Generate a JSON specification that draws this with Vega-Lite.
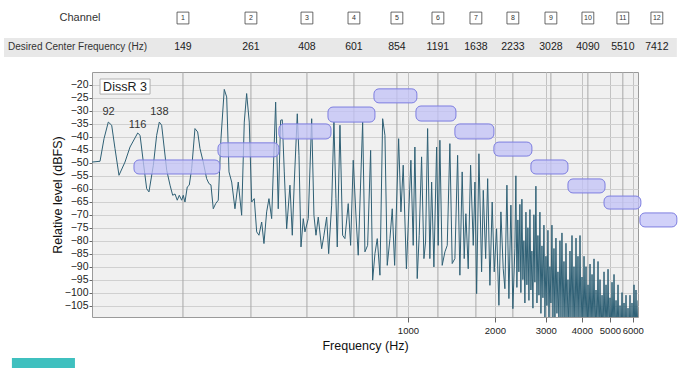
{
  "$schema": "https://vega.github.io/schema/vega-lite/v6.json",
  "width": 546,
  "height": 245,
  "autosize": "none",
  "padding": {"left": 92, "top": 72, "right": 45, "bottom": 51},
  "background": "white",
  "config": {
    "view": {"stroke": "#9a9a9a", "fill": "#f0f0f0"},
    "font": "Liberation Sans"
  },
  "datasets": {
    "spec": [
      {"f":80.65,"d":-49.7},{"f":85.97,"d":-49.4},{"f":88.75,"d":-40.7},{"f":91.83,"d":-34.3},{"f":94.34,"d":-35.5},{"f":96.87,"d":-44.5},{"f":100,"d":-54.8},{"f":104.9,"d":-49.7},{"f":109.2,"d":-43.9},{"f":116.1,"d":-38.5},{"f":118.3,"d":-39.4},{"f":121.4,"d":-49.7},{"f":124.7,"d":-60},{"f":127.0,"d":-61.2},{"f":131.5,"d":-50.9},{"f":135.0,"d":-39.4},{"f":137.9,"d":-34.3},{"f":140.5,"d":-35.5},{"f":146.3,"d":-52.9},{"f":150.2,"d":-58.6},{"f":153.4,"d":-62.5},{"f":156.3,"d":-62},{"f":159.1,"d":-64.4},{"f":161.7,"d":-62.5},{"f":164.8,"d":-64.4},{"f":166.9,"d":-62.5},{"f":169.2,"d":-65.1},{"f":172.3,"d":-59.3},{"f":175.1,"d":-58.6},{"f":178.5,"d":-52.2},{"f":183.2,"d":-36.8},{"f":187.2,"d":-38.1},{"f":190.7,"d":-44.5},{"f":195.7,"d":-49.7},{"f":201.1,"d":-56.1},{"f":204.8,"d":-58},{"f":208.1,"d":-58.5},{"f":212.0,"d":-67.7},{"f":216.1,"d":-65.7},{"f":220.6,"d":-64.4},{"f":225.4,"d":-40.7},{"f":231.4,"d":-21.7},{"f":235.9,"d":-24.6},{"f":240.3,"d":-53.5},{"f":245.5,"d":-57.4},{"f":252.0,"d":-67.7},{"f":258.7,"d":-57.4},{"f":265.8,"d":-70.2},{"f":271.4,"d":-34.3},{"f":276.6,"d":-23.3},{"f":282.4,"d":-34.3},{"f":287.9,"d":-65.1},{"f":293.9,"d":-63.8},{"f":299.6,"d":-76.6},{"f":305.1,"d":-77.9},{"f":311.8,"d":-72.8},{"f":317.5,"d":-81.1},{"f":324.4,"d":-68.9},{"f":330.4,"d":-63.8},{"f":337.6,"d":-71.5},{"f":348.5,"d":-26.6},{"f":355.8,"d":-67.7},{"f":362.6,"d":-33.6},{"f":367.4,"d":-33.4},{"f":373.3,"d":-53.5},{"f":380.5,"d":-75.4},{"f":390.6,"d":-58.6},{"f":397.9,"d":-77.9},{"f":404.3,"d":-57.4},{"f":414.1,"d":-31.1},{"f":419.7,"d":-47.1},{"f":426.5,"d":-82.4},{"f":434.3,"d":-71.5},{"f":440.2,"d":-76.6},{"f":451.9,"d":-71.5},{"f":464.4,"d":-33},{"f":472.9,"d":-70.2},{"f":480.6,"d":-77.9},{"f":489.4,"d":-70.9},{"f":502.9,"d":-83.1},{"f":512.1,"d":-77.9},{"f":523.3,"d":-70.9},{"f":531.7,"d":-85},{"f":544.5,"d":-66.3},{"f":554.5,"d":-34.3},{"f":563.5,"d":-63.8},{"f":569.4,"d":-82.4},{"f":581.8,"d":-35.5},{"f":594.3,"d":-77.9},{"f":605.3,"d":-79.2},{"f":621.4,"d":-65.7},{"f":633.4,"d":-81.8},{"f":646.7,"d":-49},{"f":660.9,"d":-70.2},{"f":673.0,"d":-85.6},{"f":697.1,"d":-34.3},{"f":709.9,"d":-84.3},{"f":725.4,"d":-81.8},{"f":742.9,"d":-45.2},{"f":755.0,"d":-95.2},{"f":768.9,"d":-85},{"f":783.2,"d":-79.2},{"f":800.2,"d":-93.3},{"f":817.6,"d":-33},{"f":832.7,"d":-39.4},{"f":848.1,"d":-89.5},{"f":866.5,"d":-79.2},{"f":882.6,"d":-67.7},{"f":899.5,"d":-89.5},{"f":928.6,"d":-40.7},{"f":945.8,"d":-68.9},{"f":963.2,"d":-50.9},{"f":988,"d":-90.8},{"f":1024,"d":-49},{"f":1043,"d":-81.8},{"f":1057,"d":-43.9},{"f":1077,"d":-94.6},{"f":1094,"d":-77.9},{"f":1115,"d":-47.7},{"f":1136,"d":-86.9},{"f":1151,"d":-80.5},{"f":1170,"d":-36.8},{"f":1191,"d":-86.9},{"f":1208,"d":-57.4},{"f":1230,"d":-90.1},{"f":1257,"d":-43.9},{"f":1273,"d":-81.8},{"f":1290,"d":-41.3},{"f":1314,"d":-89.5},{"f":1343,"d":-84.3},{"f":1368,"d":-81.8},{"f":1397,"d":-42.6},{"f":1423,"d":-88.8},{"f":1454,"d":-86.9},{"f":1486,"d":-47.1},{"f":1513,"d":-93.3},{"f":1541,"d":-53.5},{"f":1566,"d":-86.9},{"f":1587,"d":-69.6},{"f":1617,"d":-90.8},{"f":1648,"d":-50.9},{"f":1683,"d":-81.8},{"f":1706,"d":-57.4},{"f":1729,"d":-100.4},{"f":1761,"d":-46.5},{"f":1799,"d":-92},{"f":1823,"d":-60.6},{"f":1858,"d":-86.9},{"f":1888,"d":-56.1},{"f":1922,"d":-97.2},{"f":1957,"d":-65.1},{"f":1989,"d":-92},{"f":2027,"d":-75.4},{"f":2065,"d":-104.9},{"f":2098,"d":-68.9},{"f":2137,"d":-90.8},{"f":2166,"d":-98.5},{"f":2201,"d":-58.6},{"f":2236,"d":-102.3},{"f":2272,"d":-66.3},{"f":2308,"d":-106.2},{"f":2345,"d":-83.1},
      {"f":2364,"d":-55},{"f":2383,"d":-98},{"f":2402,"d":-72},{"f":2421,"d":-92},{"f":2441,"d":-66},{"f":2460,"d":-100},{"f":2480,"d":-64},{"f":2500,"d":-95},{"f":2520,"d":-80},{"f":2540,"d":-104},{"f":2561,"d":-69},{"f":2581,"d":-97},{"f":2602,"d":-75},{"f":2623,"d":-103},{"f":2644,"d":-68},{"f":2665,"d":-99},{"f":2686,"d":-84},{"f":2708,"d":-106},{"f":2729,"d":-70},{"f":2751,"d":-96},{"f":2773,"d":-59},{"f":2796,"d":-104},{"f":2818,"d":-78},{"f":2841,"d":-101},{"f":2863,"d":-69},{"f":2886,"d":-108},{"f":2910,"d":-82},{"f":2933,"d":-102},{"f":2956,"d":-74},{"f":2980,"d":-110},{"f":3004,"d":-86},{"f":3028,"d":-105},{"f":3052,"d":-76},{"f":3077,"d":-112},{"f":3101,"d":-90},{"f":3126,"d":-104},{"f":3151,"d":-74},{"f":3176,"d":-110},{"f":3202,"d":-83},{"f":3227,"d":-113},{"f":3253,"d":-79},{"f":3279,"d":-108},{"f":3306,"d":-92},{"f":3332,"d":-115},{"f":3359,"d":-80},{"f":3386,"d":-110},{"f":3413,"d":-77},{"f":3440,"d":-112},{"f":3468,"d":-88},{"f":3496,"d":-116},{"f":3524,"d":-81},{"f":3552,"d":-111},{"f":3580,"d":-95},{"f":3609,"d":-118},{"f":3638,"d":-84},{"f":3667,"d":-112},{"f":3697,"d":-78},{"f":3726,"d":-115},{"f":3756,"d":-90},{"f":3786,"d":-118},{"f":3817,"d":-79},{"f":3847,"d":-113},{"f":3878,"d":-86},{"f":3909,"d":-117},{"f":3941,"d":-78},{"f":3972,"d":-115},{"f":4004,"d":-94},{"f":4036,"d":-118},{"f":4069,"d":-86},{"f":4101,"d":-114},{"f":4134,"d":-90},{"f":4167,"d":-119},{"f":4201,"d":-97},{"f":4234,"d":-115},{"f":4268,"d":-89},{"f":4302,"d":-118},{"f":4337,"d":-93},{"f":4371,"d":-116},{"f":4406,"d":-87},{"f":4442,"d":-120},{"f":4477,"d":-99},{"f":4513,"d":-116},{"f":4549,"d":-88},{"f":4585,"d":-119},{"f":4622,"d":-95},{"f":4659,"d":-117},{"f":4697,"d":-101},{"f":4734,"d":-120},{"f":4772,"d":-92},{"f":4810,"d":-116},{"f":4849,"d":-97},{"f":4888,"d":-119},{"f":4927,"d":-91},{"f":4966,"d":-117},{"f":5006,"d":-102},{"f":5046,"d":-120},{"f":5086,"d":-96},{"f":5127,"d":-118},{"f":5168,"d":-93},{"f":5209,"d":-120},{"f":5251,"d":-103},{"f":5293,"d":-118},{"f":5335,"d":-97},{"f":5378,"d":-120},{"f":5421,"d":-105},{"f":5464,"d":-118},{"f":5508,"d":-100},{"f":5552,"d":-120},{"f":5596,"d":-104},{"f":5641,"d":-119},{"f":5686,"d":-101},{"f":5731,"d":-120},{"f":5777,"d":-106},{"f":5823,"d":-118},{"f":5870,"d":-101},{"f":5917,"d":-120},{"f":5964,"d":-104},{"f":6012,"d":-118},{"f":6060,"d":-97},{"f":6108,"d":-119},{"f":6157,"d":-99},{"f":6206,"d":-118},{"f":6256,"d":-103}
    ],
    "chan": [
      {"t":"1","q":"149","f":166.5,"d":5.8,"d2":-5.4,"dl":-109.4,"du":-15},
      {"t":"2","q":"261","f":286.2,"d":5.8,"d2":-5.4,"dl":-109.4,"du":-15},
      {"t":"3","q":"408","f":447.2,"d":5.8,"d2":-5.4,"dl":-109.4,"du":-15},
      {"t":"4","q":"601","f":650.4,"d":5.8,"d2":-5.4,"dl":-109.4,"du":-15},
      {"t":"5","q":"854","f":916.0,"d":5.8,"d2":-5.4,"dl":-109.4,"du":-15},
      {"t":"6","q":"1191","f":1270,"d":5.8,"d2":-5.4,"dl":-109.4,"du":-15},
      {"t":"7","q":"1638","f":1719,"d":5.8,"d2":-5.4,"dl":-109.4,"du":-15},
      {"t":"8","q":"2233","f":2308,"d":5.8,"d2":-5.4,"dl":-109.4,"du":-15},
      {"t":"9","q":"3028","f":3125,"d":5.8,"d2":-5.4,"dl":-109.4,"du":-15},
      {"t":"10","q":"4090","f":4196,"d":5.8,"d2":-5.4,"dl":-109.4,"du":-15},
      {"t":"11","q":"5510","f":5544,"d":5.8,"d2":-5.4,"dl":-109.4,"du":-15},
      {"t":"12","q":"7412","f":7271,"d":5.8,"d2":-5.4,"dl":-109.4,"du":-15}
    ],
    "boxes": [
      {"f":112.7,"f2":223.6,"d":-48.9,"d2":-54.3},
      {"f":220.1,"f2":357.7,"d":-42.3,"d2":-47.7},
      {"f":357.7,"f2":541.6,"d":-35,"d2":-40.8},
      {"f":528.8,"f2":768.9,"d":-28.5,"d2":-34.3},
      {"f":762.8,"f2":1074,"d":-21.5,"d2":-26.9},
      {"f":1066,"f2":1466,"d":-28.1,"d2":-33.9},
      {"f":1454,"f2":1984,"d":-35,"d2":-40.8},
      {"f":1984,"f2":2686,"d":-42,"d2":-47.4},
      {"f":2665,"f2":3580,"d":-48.9,"d2":-54.3},
      {"f":3580,"f2":4810,"d":-56.2,"d2":-61.6},
      {"f":4772,"f2":6401,"d":-62.8,"d2":-67.8},
      {"f":6353,"f2":8526,"d":-69.3,"d2":-74.7}
    ],
    "hgrid": [
      {"d":-17.5},{"d":-22.5},{"d":-27.5},{"d":-32.5},{"d":-37.5},{"d":-42.5},{"d":-47.5},{"d":-52.5},{"d":-57.5},{"d":-62.5},{"d":-67.5},{"d":-72.5},{"d":-77.5},{"d":-82.5},{"d":-87.5},{"d":-92.5},{"d":-97.5},{"d":-102.5},{"d":-107.5}
    ],
    "peaks": [
      {"f":92,"d":-30.3,"t":"92"},{"f":116,"d":-35.4,"t":"116"},{"f":138,"d":-30.3,"t":"138"}
    ]
  },
  "encoding": {
    "x": {"field": "f", "type": "quantitative", "title": "Frequency (Hz)",
      "scale": {"type": "log", "domain": [80.65, 6256], "nice": false, "zero": false},
      "axis": {"values": [1000, 2000, 3000, 4000, 5000, 6000], "format": "d", "labelFontSize": 9.5, "labelOverlap": false, "labelColor": "#222", "tickColor": "#666", "tickSize": 5, "domain": false, "grid": true, "gridColor": "#c2c2c2", "titleFontSize": 12.5, "titleFontWeight": "normal", "titleColor": "#111", "titlePadding": 5, "labelPadding": 3}},
    "y": {"field": "d", "type": "quantitative", "title": "Relative level (dBFS)",
      "scale": {"domain": [-109.4, -15], "nice": false, "zero": false},
      "axis": {"values": [-20,-25,-30,-35,-40,-45,-50,-55,-60,-65,-70,-75,-80,-85,-90,-95,-100,-105], "labelFontSize": 10.5, "labelColor": "#222", "tickColor": "#666", "tickSize": 3, "labelPadding": 1, "domain": false, "grid": true, "gridColor": "#d0d0d0", "titleFontSize": 12.5, "titleFontWeight": "normal", "titleColor": "#111", "titlePadding": 0}}
  },
  "layer": [
    {
      "data": {"values": [{"f": 40, "f2": 8526, "d": -1.9, "d2": -9.2}]},
      "mark": {"type": "rect", "fill": "#e8e8e8", "clip": false},
      "encoding": {"x2": {"field": "f2"}, "y2": {"field": "d2"}}
    },
    {
      "data": {"values": [{"f": 42.6, "f2": 70.4, "d": -125.2, "d2": -131}]},
      "mark": {"type": "rect", "fill": "#3fc0bf", "clip": false},
      "encoding": {"x2": {"field": "f2"}, "y2": {"field": "d2"}}
    },
    {
      "data": {"values": [{"f": 73.3, "d": 5.8, "t": "Channel"}]},
      "mark": {"type": "text", "fontSize": 11, "color": "#333", "align": "center", "baseline": "middle"},
      "encoding": {"text": {"field": "t"}}
    },
    {
      "data": {"values": [{"f": 41.3, "d": -5.4, "t": "Desired Center Frequency (Hz)"}]},
      "mark": {"type": "text", "fontSize": 10, "color": "#333", "align": "left", "baseline": "middle"},
      "encoding": {"text": {"field": "t"}}
    },
    {
      "data": {"name": "chan"},
      "mark": {"type": "point", "shape": "square", "size": 140, "filled": true, "fill": "white", "stroke": "#444", "strokeWidth": 0.8, "opacity": 1},
      "encoding": {}
    },
    {
      "data": {"name": "chan"},
      "mark": {"type": "text", "fontSize": 7, "color": "#333", "align": "center", "baseline": "middle"},
      "encoding": {"text": {"field": "t"}}
    },
    {
      "data": {"name": "chan"},
      "mark": {"type": "text", "fontSize": 10.5, "color": "#222", "align": "center", "baseline": "middle"},
      "encoding": {"text": {"field": "q"}, "y": {"field": "d2", "type": "quantitative"}}
    },
    {
      "data": {"name": "hgrid"},
      "mark": {"type": "rule", "stroke": "#dddddd", "strokeWidth": 1},
      "encoding": {"x": {"datum": 80.65, "type": "quantitative"}, "x2": {"datum": 6256}}
    },
    {
      "data": {"name": "chan"},
      "mark": {"type": "rule", "stroke": "#a8a8a8", "strokeWidth": 1, "clip": true},
      "encoding": {"y": {"field": "dl", "type": "quantitative"}, "y2": {"field": "du"}}
    },
    {
      "data": {"name": "spec"},
      "mark": {"type": "line", "stroke": "#2f6075", "strokeWidth": 1, "clip": true},
      "encoding": {}
    },
    {
      "data": {"name": "boxes"},
      "mark": {"type": "rect", "fill": "#c2c2f7", "fillOpacity": 0.75, "stroke": "#7d7ee0", "strokeWidth": 1, "cornerRadius": 5, "clip": false},
      "encoding": {"x2": {"field": "f2"}, "y2": {"field": "d2"}}
    },
    {
      "data": {"name": "peaks"},
      "mark": {"type": "text", "fontSize": 11, "color": "#333", "align": "center", "baseline": "middle"},
      "encoding": {"text": {"field": "t"}}
    },
    {
      "data": {"values": [{"f": 85.97, "f2": 128.1, "d": -17.7, "d2": -23.5}]},
      "mark": {"type": "rect", "fill": "white", "stroke": "#b0b0b0", "strokeWidth": 1},
      "encoding": {"x2": {"field": "f2"}, "y2": {"field": "d2"}}
    },
    {
      "data": {"values": [{"f": 104.9, "d": -20.6, "t": "DissR 3"}]},
      "mark": {"type": "text", "fontSize": 12.5, "color": "#222", "align": "center", "baseline": "middle"},
      "encoding": {"text": {"field": "t"}}
    }
  ]
}
